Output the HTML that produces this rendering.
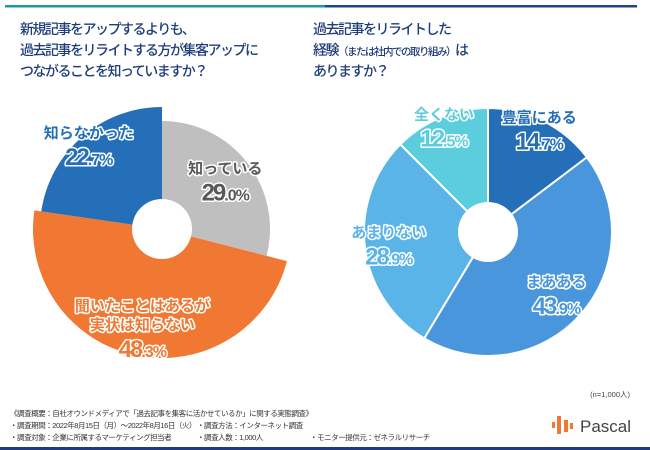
<!DOCTYPE html>
<html><head><meta charset="utf-8"><style>
body{margin:0;width:650px;height:450px;overflow:hidden;background:#fff;font-family:"Liberation Sans","Noto Sans CJK JP",sans-serif;}
svg{display:block}
</style></head><body>
<svg width="650" height="450">
<rect x="5" y="5" width="320" height="2.5" fill="#1a9aa0"/>
<rect x="325" y="5" width="312" height="2.5" fill="#1f4590"/>
<g font-size="14" fill="#1f3d7a" font-weight="500" letter-spacing="-1.5">
<text x="20" y="34">新規記事をアップするよりも、</text>
<text x="20" y="55">過去記事をリライトする方が集客アップに</text>
<text x="20" y="76">つながることを知っていますか？</text>
</g>
<g font-size="14" fill="#1f3d7a" font-weight="500" letter-spacing="-1.5">
<text x="313" y="34">過去記事をリライトした</text>
<text x="313" y="55">経験<tspan font-size="10.5">（または社内での取り組み）</tspan>は</text>
<text x="313" y="76">ありますか？</text>
</g>
<g id="left"></g><g id="right"></g>
<rect x="0" y="403" width="650" height="44" fill="#fff"/>
<text x="630" y="397" font-size="7.5" fill="#444" text-anchor="end">(n=1,000人)</text>
<g font-size="7.5" fill="#333" letter-spacing="-0.45">
<text x="10" y="416">《調査概要：自社オウンドメディアで「過去記事を集客に活かせているか」に関する実態調査》</text>
<text x="10" y="428">・調査期間：2022年8月15日（月）～2022年8月16日（火）</text>
<text x="197" y="428">・調査方法：インターネット調査</text>
<text x="10" y="440">・調査対象：企業に所属するマーケティング担当者</text>
<text x="197" y="440">・調査人数：1,000人</text>
<text x="310" y="440">・モニター提供元：ゼネラルリサーチ</text>
</g>
<g>
<rect x="552" y="422" width="3" height="6" fill="#f07832"/><rect x="557" y="416" width="4" height="18" fill="#f07832"/><rect x="564" y="420" width="4" height="12" fill="#f07832"/><rect x="570" y="423" width="3" height="6" fill="#f07832"/>
<text x="580" y="432" font-size="17" fill="#444">Pascal</text>
</g>
<rect x="0" y="447" width="650" height="3" fill="#1f3d7a"/>
</svg>
<script>
const leftLabels=["知っている","聞いたことはあるが|実状は知らない","知らなかった"];
const leftValues=[29.0,48.3,22.7];
const rightLabels=["豊富にある","まあある","あまりない","全くない"];
const rightValues=[14.7,43.9,28.9,12.5];
const NS="http://www.w3.org/2000/svg";
function pt(cx,cy,r,a){return [cx+r*Math.sin(a),cy-r*Math.cos(a)];}
function donut(g,cx,cy,radii,hole,vals,labels,colors,txtColors,lpos,sep,nameP){
  const tot=vals.reduce((a,b)=>a+b,0);let a0=0;const texts=[];
  vals.forEach((v,i)=>{
    const a1=a0+v/tot*2*Math.PI,r=radii[i];
    const [x0,y0]=pt(cx,cy,r,a0),[x1,y1]=pt(cx,cy,r,a1);
    const p=document.createElementNS(NS,"path");
    p.setAttribute("d",`M${cx},${cy}L${x0},${y0}A${r},${r} 0 ${a1-a0>Math.PI?1:0} 1 ${x1},${y1}Z`);
    p.setAttribute("fill",colors[i]);
    if(sep){p.setAttribute("stroke","#fff");p.setAttribute("stroke-width","2");}
    
    
    g.appendChild(p);
    const am=(a0+a1)/2,[lx,ly]=pt(cx,cy,lpos[i],am);
    const lines=labels[i].split("|");
    const t=document.createElementNS(NS,"text");
    t.setAttribute("text-anchor","middle");t.setAttribute("font-weight","bold");
    t.setAttribute("fill",txtColors[i]);t.setAttribute("stroke","#fff");t.setAttribute("stroke-width","3");
    t.setAttribute("paint-order","stroke");t.setAttribute("stroke-linejoin","round");
    
    
    const h=lines.length*19+24;let y=ly-h/2+15;
    lines.forEach(s=>{const ts=document.createElementNS(NS,"tspan");ts.setAttribute("x",lx);ts.setAttribute("y",y);ts.setAttribute("font-size","15");ts.textContent=s;t.appendChild(ts);y+=19;});
    const parts=v.toFixed(1).split(".");
    const ts=document.createElementNS(NS,"tspan");ts.setAttribute("x",lx);ts.setAttribute("y",y+8);ts.setAttribute("font-size","24");ts.setAttribute("letter-spacing","-2");ts.textContent=parts[0];t.appendChild(ts);
    const ts2=document.createElementNS(NS,"tspan");ts2.setAttribute("font-size","16");ts2.setAttribute("letter-spacing","-1");ts2.textContent="."+parts[1]+"%";t.appendChild(ts2);
    texts.push(t);
    a0=a1;
  });
  const c=document.createElementNS(NS,"circle");c.setAttribute("cx",cx);c.setAttribute("cy",cy);c.setAttribute("r",hole);c.setAttribute("fill","#fff");
  
  
  g.appendChild(c);
  texts.forEach(t=>g.appendChild(t));
}
donut(document.getElementById("left"),162,229,[108,129,122],30,leftValues,leftLabels,["#bfbfbf","#f07832","#246fb8"],["#595959","#f07832","#246fb8"],[80,100,112],false,"left-pie");
donut(document.getElementById("right"),488,232,[124,124,124,124],30,rightValues,rightLabels,["#246fb8","#4a96dc","#5ab4e8","#5ccddc"],["#246fb8","#4a96dc","#5ab4e8","#5ccddc"],[115,92,100,115],true,"right-pie");
</script>
</body></html>
